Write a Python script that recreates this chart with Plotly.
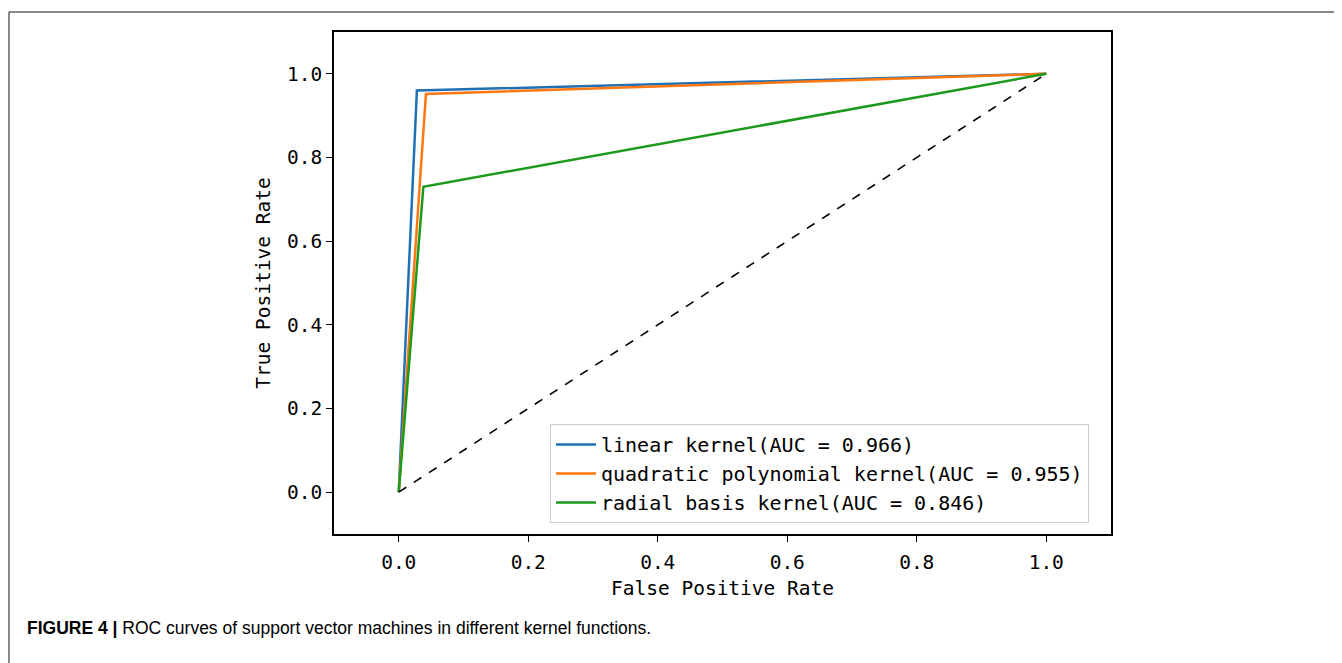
import plotly.graph_objects as go

# ROC curve points (FPR, TPR)
linear_fpr = [0.0, 0.028, 1.0]
linear_tpr = [0.0, 0.960, 1.0]
quad_fpr = [0.0, 0.042, 1.0]
quad_tpr = [0.0, 0.952, 1.0]
rbf_fpr = [0.0, 0.038, 1.0]
rbf_tpr = [0.0, 0.730, 1.0]
diag_x = [0.0, 1.0]
diag_y = [0.0, 1.0]

names = ["linear kernel(AUC = 0.966)",
         "quadratic polynomial kernel(AUC = 0.955)",
         "radial basis kernel(AUC = 0.846)"]
colors = ["#1f70b4", "#ff770e", "#1c9a1c"]
tick_vals = [0.0, 0.2, 0.4, 0.6, 0.8, 1.0]
tick_text = ["0.0", "0.2", "0.4", "0.6", "0.8", "1.0"]

OFF = 8  # page body margin
W, H = 1334, 655
L, T = 334 - OFF, 32 - OFF
pw, ph = 777, 502
R, B = W - L - pw, H - T - ph

def px(x):
    return (x - OFF - L) / pw

def py(y):
    return (T + ph - (y - OFF)) / ph

MONO = "DejaVu Sans Mono"

fig = go.Figure()
for fx, ty, nm, c in zip([linear_fpr, quad_fpr, rbf_fpr],
                         [linear_tpr, quad_tpr, rbf_tpr], names, colors):
    fig.add_trace(go.Scatter(x=fx, y=ty, mode="lines", name=nm,
                             line=dict(color=c, width=2.5)))
fig.add_trace(go.Scatter(x=diag_x, y=diag_y, mode="lines", showlegend=False,
                         line=dict(color="black", width=1.6, dash="dash")))

axis_common = dict(
    showline=True, linecolor="black", linewidth=1.5, mirror=True,
    ticks="outside", ticklen=6, tickwidth=1.3, tickcolor="black",
    showgrid=False, zeroline=False,
    tickvals=tick_vals, ticktext=tick_text,
    tickfont=dict(family=MONO, size=19.5, color="black"),
)

fig.update_layout(
    width=W, height=H,
    margin=dict(l=L, r=R, t=T, b=B),
    paper_bgcolor="white", plot_bgcolor="white",
    xaxis=dict(range=[-0.1, 1.1], ticklabelstandoff=4,
               title=dict(text="False Positive Rate",
                          font=dict(family=MONO, size=19.5, color="black"), standoff=8),
               **axis_common),
    yaxis=dict(range=[-0.1, 1.1],
               title=dict(text="True Positive Rate",
                          font=dict(family=MONO, size=19.5, color="black"), standoff=11),
               **axis_common),
    legend=dict(x=px(550), y=py(523), xanchor="left", yanchor="bottom",
                bgcolor="rgba(255,255,255,0.8)", bordercolor="#cccccc",
                borderwidth=1, font=dict(family=MONO, size=20, color="black"),
                itemwidth=40),
    showlegend=True,
)

# figure border (partial frame, as in the page crop)
fig.add_shape(type="line", xref="paper", yref="paper",
              x0=px(9), x1=px(1350), y0=py(12), y1=py(12),
              line=dict(color="#606060", width=1.5))
fig.add_shape(type="line", xref="paper", yref="paper",
              x0=px(9), x1=px(9), y0=py(12), y1=py(680),
              line=dict(color="#606060", width=1.5))

fig.add_annotation(
    xref="paper", yref="paper", x=px(25), y=py(628),
    xanchor="left", yanchor="middle", showarrow=False,
    text="<b>FIGURE 4 |</b> ROC curves of support vector machines in different kernel functions.",
    font=dict(family="Liberation Sans, Arial", size=17.5, color="black"),
)

fig.write_html("out.html", config={"displayModeBar": False})
